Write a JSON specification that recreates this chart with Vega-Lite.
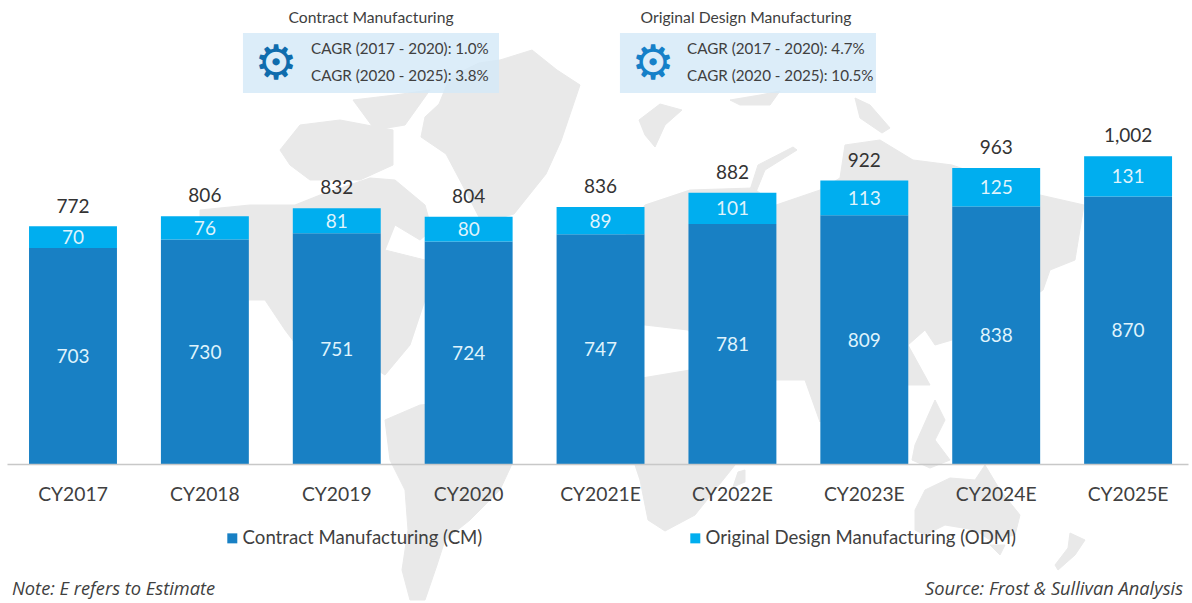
{
"$schema":"https://vega.github.io/schema/vega-lite/v6.json",
"width":1181,"height":464,
"autosize":"none",
"padding":{"left":7,"top":0,"right":4,"bottom":139},
"background":"white",
"config":{"view":{"stroke":null},"text":{"font":"Lato"},"font":"Lato"},
"datasets":{
"bars":[
{"year":"CY2017","series":"Contract Manufacturing (CM)","value":703},{"year":"CY2017","series":"Original Design Manufacturing (ODM)","value":70},
{"year":"CY2018","series":"Contract Manufacturing (CM)","value":730},{"year":"CY2018","series":"Original Design Manufacturing (ODM)","value":76},
{"year":"CY2019","series":"Contract Manufacturing (CM)","value":751},{"year":"CY2019","series":"Original Design Manufacturing (ODM)","value":81},
{"year":"CY2020","series":"Contract Manufacturing (CM)","value":724},{"year":"CY2020","series":"Original Design Manufacturing (ODM)","value":80},
{"year":"CY2021E","series":"Contract Manufacturing (CM)","value":747},{"year":"CY2021E","series":"Original Design Manufacturing (ODM)","value":89},
{"year":"CY2022E","series":"Contract Manufacturing (CM)","value":781},{"year":"CY2022E","series":"Original Design Manufacturing (ODM)","value":101},
{"year":"CY2023E","series":"Contract Manufacturing (CM)","value":809},{"year":"CY2023E","series":"Original Design Manufacturing (ODM)","value":113},
{"year":"CY2024E","series":"Contract Manufacturing (CM)","value":838},{"year":"CY2024E","series":"Original Design Manufacturing (ODM)","value":125},
{"year":"CY2025E","series":"Contract Manufacturing (CM)","value":870},{"year":"CY2025E","series":"Original Design Manufacturing (ODM)","value":131}],
"totals":[
{"year":"CY2017","total":772},{"year":"CY2018","total":806},{"year":"CY2019","total":832},{"year":"CY2020","total":804},{"year":"CY2021E","total":836},{"year":"CY2022E","total":882},{"year":"CY2023E","total":922},{"year":"CY2024E","total":963},{"year":"CY2025E","total":1002}],
"land":[
{"type":"Feature","properties":{"name":"Greenland"},"geometry":{"type":"Polygon","coordinates":[[[-50,135],[-34,140],[-21.5,130],[-10,122.5],[-19.5,94.5],[-27,78],[-43,58],[-59,53.5],[-68,71],[-77,88],[-89.5,96.5],[-87.5,106.5],[-80.5,113],[-75,126.5],[-60.5,133.5],[-50,135]]]}},
{"type":"Feature","properties":{"name":"Arctic Canada"},"geometry":{"type":"Polygon","coordinates":[[[-160,90],[-150,102.5],[-130,105],[-103.5,100],[-103.5,82.5],[-120,75],[-145,75],[-155,82.5],[-160,90]]]}},
{"type":"Feature","properties":{"name":"Ellesmere"},"geometry":{"type":"Polygon","coordinates":[[[-123.5,115],[-102.5,117.5],[-85,120],[-97.5,102.5],[-112.5,100],[-123.5,115]]]}},
{"type":"Feature","properties":{"name":"North America"},"geometry":{"type":"Polygon","coordinates":[[[-200,60],[-175,62.5],[-152.5,62.5],[-140,67.5],[-115,76],[-102.5,75],[-87.5,62.5],[-84,50],[-90,45],[-102.5,52.5],[-107.5,40],[-87.5,35],[-87.5,15],[-95,-7.5],[-107.5,-22.5],[-127.5,-10],[-150,-10],[-157.5,0],[-167.5,15],[-175,15],[-200,15],[-200,60]]]}},
{"type":"Feature","properties":{"name":"South America"},"geometry":{"type":"Polygon","coordinates":[[[-107.5,-45],[-90,-37.5],[-60,-35],[-45,-50],[-44,-67],[-50,-80],[-65,-95],[-77.5,-105],[-81.5,-117.5],[-87.5,-135],[-95,-135],[-99,-120],[-96,-100],[-97.5,-80],[-105,-65],[-107.5,-45]]]}},
{"type":"Feature","properties":{"name":"Svalbard"},"geometry":{"type":"Polygon","coordinates":[[[19.5,105],[30,113],[41,110],[32.5,102.5],[27.5,91.5],[22.5,97.5],[19.5,105]]]}},
{"type":"Feature","properties":{"name":"Franz Josef Land"},"geometry":{"type":"Polygon","coordinates":[[[65,115],[80,117.5],[90,119.5],[85,112.5],[70,112.5],[65,115]]]}},
{"type":"Feature","properties":{"name":"Novaya Zemlya"},"geometry":{"type":"Polygon","coordinates":[[[96.5,91.5],[98.5,90],[82.5,80],[78,69],[75,70],[79,82.5],[96.5,91.5]]]}},
{"type":"Feature","properties":{"name":"Severnaya Zemlya"},"geometry":{"type":"Polygon","coordinates":[[[127.5,116],[135,112.5],[145,101],[141,98.5],[130,106],[127.5,116]]]}},
{"type":"Feature","properties":{"name":"Eurasia"},"geometry":{"type":"Polygon","coordinates":[[[5,35],[22.5,62.5],[45,70],[76.5,71],[88,62.5],[110,70],[120,76],[122.5,92.5],[140,95],[156.5,85],[176,82.5],[220,67.5],[242,62.5],[237.5,35],[225,30],[221.5,20],[200,5],[176,-5],[167.5,-7.5],[162.5,0],[154,-7.5],[165,-27.5],[152.5,-27.5],[147.5,-35],[125,-20],[110,-46],[102.5,-25],[88,-25],[50,-7.5],[44,0],[22.5,2.5],[0,0],[5,35]]]}},
{"type":"Feature","properties":{"name":"Indonesia"},"geometry":{"type":"Polygon","coordinates":[[[157.5,-57.5],[167.5,-35],[172.5,-45],[167.5,-55],[175,-65],[165,-69],[156,-65],[157.5,-57.5]]]}},
{"type":"Feature","properties":{"name":"Africa"},"geometry":{"type":"Polygon","coordinates":[[[0,-27.5],[45,-20],[85,-35],[80,-55],[67.5,-67.5],[57.5,-80],[47.5,-92.5],[32.5,-100.5],[24,-95],[20,-75],[15,-60],[0,-50],[0,-27.5]]]}},
{"type":"Feature","properties":{"name":"Madagascar"},"geometry":{"type":"Polygon","coordinates":[[[66.5,-78.5],[69,-71],[72.5,-70],[72.5,-76],[66.5,-78.5]]]}},
{"type":"Feature","properties":{"name":"Australia"},"geometry":{"type":"Polygon","coordinates":[[[157.5,-90],[162.5,-80],[175,-74],[187.5,-75],[192.5,-67.5],[200,-80],[210,-92.5],[207.5,-102.5],[195,-105],[187.5,-100],[172.5,-97.5],[162.5,-102.5],[157.5,-100],[157.5,-90]]]}},
{"type":"Feature","properties":{"name":"Tasmania"},"geometry":{"type":"Polygon","coordinates":[[[195,-107.5],[202.5,-107.5],[200,-112.5],[195,-107.5]]]}},
{"type":"Feature","properties":{"name":"New Zealand"},"geometry":{"type":"Polygon","coordinates":[[[235,-101.5],[242.5,-105],[237.5,-112.5],[229,-120],[227.5,-117.5],[234,-109],[235,-101.5]]]}}
]},
"resolve":{"scale":{"x":"independent"},"axis":{"x":"independent"}},
"layer":[
{"data":{"name":"land"},"mark":{"type":"geoshape","fill":"#e9e9e9","stroke":"#e9e9e9","strokeWidth":1,"clip":false},
 "projection":{"type":"identity","reflectY":true,"scale":2,"translate":[593,330]},"encoding":{}},
{"data":{"values":[{"a":1}]},
 "encoding":{"y":{"type":"quantitative","scale":{"domain":[0,1509.4],"nice":false},"axis":null}},
 "layer":[
 {"mark":{"type":"rect","fill":"#d3e8f8","opacity":0.8},"encoding":{"x":{"datum":0.1998,"type":"quantitative","scale":{"domain":[0,1],"nice":false,"zero":false},"axis":null},"x2":{"datum":0.4166},"y":{"datum":1402,"type":"quantitative"},"y2":{"datum":1207}}},
 {"mark":{"type":"rect","fill":"#d3e8f8","opacity":0.8},"encoding":{"x":{"datum":0.5190,"type":"quantitative"},"x2":{"datum":0.7358},"y":{"datum":1402,"type":"quantitative"},"y2":{"datum":1207}}},
 {"mark":{"type":"text","fontSize":15.7,"color":"#404040","align":"center","baseline":"middle"},"encoding":{"x":{"datum":0.3082,"type":"quantitative"},"y":{"datum":1451,"type":"quantitative"},"text":{"value":"Contract Manufacturing"}}},
 {"mark":{"type":"text","fontSize":15.7,"color":"#404040","align":"center","baseline":"middle"},"encoding":{"x":{"datum":0.6257,"type":"quantitative"},"y":{"datum":1451,"type":"quantitative"},"text":{"value":"Original Design Manufacturing"}}},
 {"mark":{"type":"text","fontSize":15.2,"color":"#404040","align":"left","baseline":"middle"},"encoding":{"x":{"datum":0.2574,"type":"quantitative"},"y":{"datum":1350,"type":"quantitative"},"text":{"value":"CAGR (2017 - 2020): 1.0%"}}},
 {"mark":{"type":"text","fontSize":15.2,"color":"#404040","align":"left","baseline":"middle"},"encoding":{"x":{"datum":0.2574,"type":"quantitative"},"y":{"datum":1262,"type":"quantitative"},"text":{"value":"CAGR (2020 - 2025): 3.8%"}}},
 {"mark":{"type":"text","fontSize":15.2,"color":"#404040","align":"left","baseline":"middle"},"encoding":{"x":{"datum":0.5758,"type":"quantitative"},"y":{"datum":1350,"type":"quantitative"},"text":{"value":"CAGR (2017 - 2020): 4.7%"}}},
 {"mark":{"type":"text","fontSize":15.2,"color":"#404040","align":"left","baseline":"middle"},"encoding":{"x":{"datum":0.5758,"type":"quantitative"},"y":{"datum":1262,"type":"quantitative"},"text":{"value":"CAGR (2020 - 2025): 10.5%"}}},
 {"mark":{"type":"text","font":"DejaVu Sans","fontSize":48,"color":"#0f6cad","align":"center","baseline":"middle"},"encoding":{"x":{"datum":0.2278,"type":"quantitative"},"y":{"datum":1298,"type":"quantitative"},"text":{"value":"⚙"}}},
 {"mark":{"type":"text","font":"DejaVu Sans","fontSize":48,"color":"#1580c8","align":"center","baseline":"middle"},"encoding":{"x":{"datum":0.5470,"type":"quantitative"},"y":{"datum":1298,"type":"quantitative"},"text":{"value":"⚙"}}},
 {"mark":{"type":"text","font":"Open Sans","fontSize":18.3,"fontStyle":"italic","color":"#404040","align":"left","baseline":"middle"},"encoding":{"x":{"datum":0.0042,"type":"quantitative"},"y":{"datum":-410,"type":"quantitative"},"text":{"value":"Note: E refers to Estimate"}}},
 {"mark":{"type":"text","font":"Open Sans","fontSize":18.3,"fontStyle":"italic","color":"#404040","align":"right","baseline":"middle"},"encoding":{"x":{"datum":0.9958,"type":"quantitative"},"y":{"datum":-410,"type":"quantitative"},"text":{"value":"Source: Frost & Sullivan Analysis"}}}
 ]},
{"layer":[
 {"data":{"name":"bars"},
  "transform":[{"stack":"value","groupby":["year"],"sort":[{"field":"series","order":"ascending"}],"as":["v0","v1"]}],
  "mark":{"type":"bar"},
  "encoding":{
   "x":{"field":"year","type":"nominal","sort":null,"scale":{"paddingInner":0.3333,"paddingOuter":0.144,"align":0.58},
     "axis":{"orient":"bottom","zindex":1,"title":null,"labelAngle":0,"labelFontSize":19.3,"labelColor":"#404040","labelFont":"Lato","labelPadding":30,"ticks":false,"domainColor":"#c8c8c8","domainWidth":1.5,"labelBaseline":"middle"}},
   "y":{"field":"v0","type":"quantitative","scale":{"domain":[0,1509.4],"nice":false},"axis":null},
   "y2":{"field":"v1"},
   "color":{"field":"series","type":"nominal","scale":{"domain":["Contract Manufacturing (CM)","Original Design Manufacturing (ODM)"],"range":["#1880c4","#00aeef"]},
     "legend":{"title":null,"orient":"none","legendX":216,"legendY":529,"direction":"horizontal","columns":2,"columnPadding":203,"symbolType":"square","symbolSize":100,"labelFontSize":18.6,"labelFont":"Lato","labelColor":"#404040","labelOffset":1,"symbolStrokeWidth":0,"labelLimit":400}}
  }},
 {"data":{"name":"bars"},
  "transform":[{"stack":"value","groupby":["year"],"sort":[{"field":"series","order":"ascending"}],"as":["v0","v1"]},{"calculate":"(datum.v0+datum.v1)/2","as":"mid"}],
  "mark":{"type":"text","fontSize":19,"color":"#dff3fc","baseline":"middle","dy":1},
  "encoding":{"x":{"field":"year","type":"nominal","sort":null},"y":{"field":"mid","type":"quantitative"},"text":{"field":"value","type":"quantitative"}}},
 {"data":{"name":"totals"},
  "mark":{"type":"text","fontSize":19,"color":"#333333","baseline":"middle","dy":-20},
  "encoding":{"x":{"field":"year","type":"nominal","sort":null},"y":{"field":"total","type":"quantitative"},"text":{"field":"total","type":"quantitative","format":","}}}
]}
]
}
